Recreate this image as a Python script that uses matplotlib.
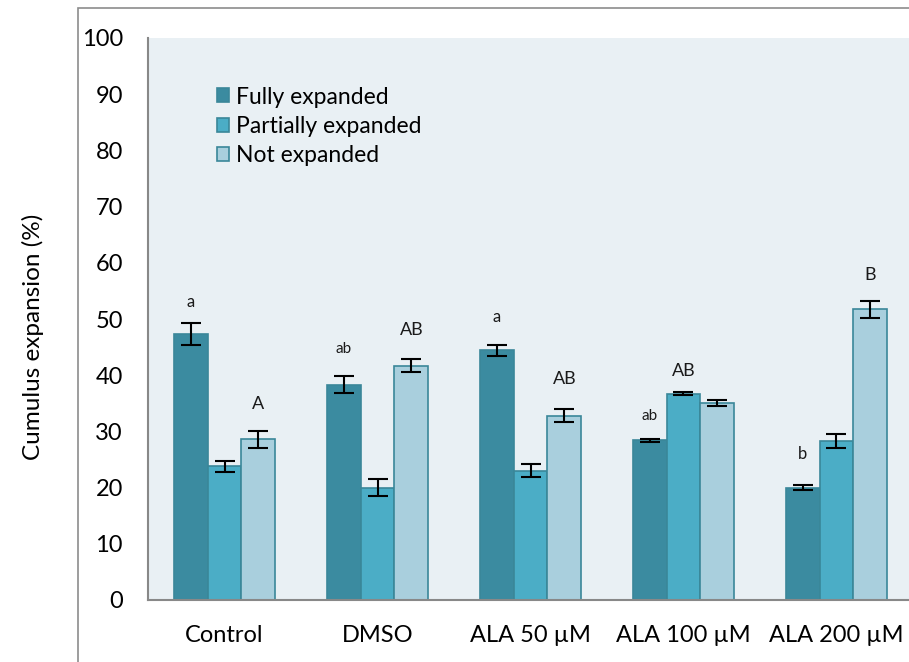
import matplotlib
matplotlib.use("Agg")
import matplotlib.pyplot as plt
import numpy as np
from matplotlib.patches import Rectangle

categories = ["Control", "DMSO", "ALA 50 µM", "ALA 100 µM", "ALA 200 µM"]
series_names = ["Fully expanded", "Partially expanded", "Not expanded"]
fully = [47.3, 38.3, 44.4, 28.4, 20.0]
fully_err = [1.9, 1.5, 0.9, 0.3, 0.4]
partial = [23.8, 20.0, 23.0, 36.7, 28.3]
partial_err = [1.0, 1.5, 1.2, 0.3, 1.2]
notexp = [28.6, 41.7, 32.8, 35.1, 51.7]
notexp_err = [1.5, 1.2, 1.2, 0.5, 1.5]
yticks = [0, 10, 20, 30, 40, 50, 60, 70, 80, 90, 100]

# significance letters: (category index, series index, text, y position)
letters = [
    (0, 0, "a", 53.0), (0, 2, "A", 34.8),
    (1, 0, "ab", 44.6), (1, 2, "AB", 48.0),
    (2, 0, "a", 50.3), (2, 2, "AB", 39.3),
    (3, 0, "ab", 32.8), (3, 1, "AB", 40.8),
    (4, 0, "b", 26.0), (4, 2, "B", 57.8),
]

plt.rcParams['font.family'] = ['Lato', 'DejaVu Sans']

fig = plt.figure(figsize=(9.09, 6.62), dpi=100)
W, H = 909, 662
ax = fig.add_axes([148 / W, (H - 600) / H, (913 - 148) / W, (600 - 38) / H])
ax.set_facecolor("#E9F0F4")

colors = ["#3B8BA0", "#4BADC6", "#A9CFDD"]
edge = "#3A8799"
bw = 0.222
x = np.arange(len(categories))
data = [(fully, fully_err), (partial, partial_err), (notexp, notexp_err)]
for i, ((vals, errs), c, name) in enumerate(zip(data, colors, series_names)):
    ax.bar(x + (i - 1) * bw, vals, bw, color=c, edgecolor=edge, linewidth=1.2,
           label=name, zorder=2)
    ax.errorbar(x + (i - 1) * bw, vals, yerr=errs, fmt="none", ecolor="black",
                elinewidth=1.5, capsize=7.5, capthick=1.5, zorder=3)

for ci, si, txt, yv in letters:
    fs = 12 if txt in ("a", "b") else (11 if txt.islower() else 13)
    ax.text(ci + (si - 1) * bw, yv, txt, ha="center", va="center",
            fontsize=fs, color="#1a1a1a", zorder=4)

ax.set_xlim(-0.5, 4.5)
ax.set_ylim(0, 100)
ax.set_yticks(yticks)
ax.set_xticks(x)
ax.set_xticklabels(categories)
ax.tick_params(axis="both", length=0, labelsize=17, colors="black")
ax.tick_params(axis="y", pad=18)
ax.tick_params(axis="x", pad=18)
for s in ["top", "right"]:
    ax.spines[s].set_visible(False)
for s in ["left", "bottom"]:
    ax.spines[s].set_color("#888888")
    ax.spines[s].set_linewidth(1.5)

ax.set_ylabel("Cumulus expansion (%)", fontsize=17.5)
ax.yaxis.set_label_coords(-0.136, 0.468)

leg = ax.legend(loc="upper left", bbox_to_anchor=(0.078, 0.93), frameon=False,
                fontsize=16.5, handlelength=0.55, handleheight=0.55,
                handletextpad=0.3, labelspacing=0.36, borderaxespad=0)

fig.add_artist(Rectangle((78 / W, -0.1), 1.2, (H - 8) / H + 0.1,
                         transform=fig.transFigure, fill=False,
                         edgecolor="#8C8C8C", linewidth=1.2))

fig.savefig("out.png", dpi=100)
